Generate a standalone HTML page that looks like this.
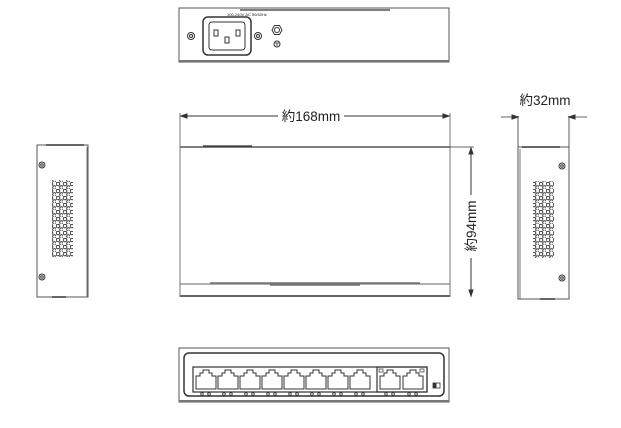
<!DOCTYPE html>
<html><head><meta charset="utf-8"><style>
html,body{margin:0;padding:0;background:#fff;}
svg{display:block;}
text{font-family:"Liberation Sans","Noto Sans CJK JP",sans-serif;fill:#222;}
</style></head><body>
<svg width="621" height="428" viewBox="0 0 621 428" xmlns="http://www.w3.org/2000/svg" fill="none" stroke="#333" stroke-width="1">
<defs>
<pattern id="vent" x="0" y="0" width="7" height="7" patternUnits="userSpaceOnUse">
<circle cx="2" cy="2" r="1.8" stroke="#333" stroke-width="1" fill="none"/>
<circle cx="5.5" cy="5.5" r="1.8" stroke="#333" stroke-width="1" fill="none"/>
</pattern>
<g id="port"><path d="M0,20 V7 H4 V4 H7 V1 H13 V4 H16 V7 H20 V20 Z" stroke="#333" stroke-width="1"/></g>
<g id="leds"><circle cx="6" cy="0" r="1.3" stroke-width="0.8"/><circle cx="13" cy="0" r="1.3" stroke-width="0.8"/></g>
</defs>

<!-- Rear view -->
<rect x="179" y="8" width="270" height="54" stroke="#555"/>
<line x1="179" y1="61" x2="449" y2="61" stroke="#777" stroke-width="2"/>
<line x1="240" y1="10" x2="390" y2="10" stroke="#333" stroke-width="1.2"/>
<text x="227" y="16" font-size="4" stroke="none">100-240V AC 50/60Hz</text>
<rect x="203" y="17" width="48" height="38" rx="5" stroke-width="1.5"/>
<rect x="209" y="22" width="36" height="28" rx="3" stroke-width="1"/>
<rect x="214" y="30" width="4" height="6"/><rect x="236" y="30" width="4" height="6"/><rect x="225" y="37" width="4" height="6"/>
<circle cx="191" cy="36" r="3.5"/><circle cx="191" cy="36" r="1.5"/>
<circle cx="258" cy="36" r="3.5"/><circle cx="258" cy="36" r="1.5"/>
<polygon points="272,30 274.5,25.5 279.5,25.5 282,30 279.5,34.5 274.5,34.5"/>
<circle cx="277" cy="30" r="2.5"/>
<circle cx="277" cy="44" r="3"/>
<line x1="275" y1="43" x2="279" y2="43" stroke-width="0.8"/><line x1="277" y1="43" x2="277" y2="46" stroke-width="0.8"/>

<!-- Left side view -->
<rect x="37" y="145" width="51" height="152" stroke="#555"/>
<line x1="87" y1="147" x2="87" y2="297" stroke="#777"/>
<line x1="46" y1="145" x2="84" y2="145" stroke-width="1.5"/>
<line x1="52" y1="297" x2="66" y2="297" stroke-width="1.5"/>
<circle cx="42" cy="165" r="3"/><circle cx="42" cy="165" r="1.3"/>
<circle cx="42" cy="277" r="3"/><circle cx="42" cy="277" r="1.3"/>
<rect x="52" y="180" width="21" height="77" fill="url(#vent)" stroke="none"/>

<!-- Front/top main -->
<line x1="180" y1="113" x2="180" y2="297" stroke="#555" stroke-width="0.8"/>
<line x1="450" y1="113" x2="450" y2="297" stroke="#555" stroke-width="0.8"/>
<line x1="181" y1="116" x2="278" y2="116"/>
<line x1="344" y1="116" x2="449" y2="116"/>
<polygon points="181,116 187,114 187,118" fill="#333"/>
<polygon points="449,116 443,114 443,118" fill="#333"/>
<text x="311" y="121" font-size="13.5" text-anchor="middle" stroke="none">約168mm</text>
<line x1="180" y1="147" x2="450" y2="147" stroke="#555" stroke-width="1.5"/>
<line x1="203" y1="146" x2="252" y2="146" stroke-width="1.2"/>
<line x1="180" y1="284" x2="450" y2="284" stroke="#666"/>
<line x1="210" y1="283" x2="420" y2="283" stroke="#777" stroke-width="1.5"/>
<line x1="270" y1="285" x2="360" y2="285" stroke="#777" stroke-width="1.5"/>
<line x1="180" y1="296" x2="450" y2="296" stroke="#666" stroke-width="2"/>
<line x1="450" y1="147" x2="474" y2="147" stroke-width="0.8"/>
<line x1="471" y1="148" x2="471" y2="195"/>
<line x1="471" y1="258" x2="471" y2="296"/>
<polygon points="471,148 469,154 473,154" fill="#333"/>
<polygon points="471,296 469,290 473,290" fill="#333"/>
<text x="0" y="0" font-size="13.5" text-anchor="middle" stroke="none" transform="translate(476,226) rotate(-90)">約94mm</text>

<!-- Right side view -->
<text x="545" y="105" font-size="13.5" text-anchor="middle" stroke="none">約32mm</text>
<line x1="518" y1="116" x2="518" y2="147" stroke-width="0.8"/>
<line x1="569" y1="116" x2="569" y2="147" stroke-width="0.8"/>
<line x1="501" y1="117" x2="518" y2="117" stroke-width="0.8"/>
<line x1="569" y1="117" x2="587" y2="117" stroke-width="0.8"/>
<polygon points="518,117 512,115 512,119" fill="#333"/>
<polygon points="569,117 575,115 575,119" fill="#333"/>
<rect x="518" y="147" width="51" height="152" stroke="#555"/>
<line x1="520" y1="149" x2="520" y2="299" stroke="#777"/>
<line x1="522" y1="147" x2="560" y2="147" stroke-width="1.5"/>
<line x1="540" y1="299" x2="555" y2="299" stroke-width="1.5"/>
<circle cx="562" cy="166" r="3"/><circle cx="562" cy="166" r="1.3"/>
<circle cx="562" cy="278" r="3"/><circle cx="562" cy="278" r="1.3"/>
<rect x="533" y="181" width="21" height="77" fill="url(#vent)" stroke="none"/>

<!-- Front ports view -->
<rect x="179" y="348" width="270" height="54" stroke="#555"/>
<line x1="179" y1="401" x2="449" y2="401" stroke="#777" stroke-width="2"/>
<rect x="184" y="353" width="260" height="43" rx="5" stroke-width="1.5"/>
<rect x="193" y="367" width="234" height="25" stroke-width="1.2"/>
<use href="#port" x="196" y="369"/>
<use href="#port" x="218" y="369"/>
<use href="#port" x="240" y="369"/>
<use href="#port" x="262" y="369"/>
<use href="#port" x="284" y="369"/>
<use href="#port" x="306" y="369"/>
<use href="#port" x="328" y="369"/>
<use href="#port" x="350" y="369"/>
<rect x="377" y="367" width="50" height="25" stroke-width="1.2"/>
<use href="#port" x="380" y="369"/>
<use href="#port" x="403" y="369"/>
<rect x="379" y="369" width="4" height="3" stroke-width="0.7"/>
<rect x="420" y="369" width="4" height="3" stroke-width="0.7"/>
<use href="#leds" x="196" y="394"/>
<use href="#leds" x="218" y="394"/>
<use href="#leds" x="240" y="394"/>
<use href="#leds" x="262" y="394"/>
<use href="#leds" x="284" y="394"/>
<use href="#leds" x="306" y="394"/>
<use href="#leds" x="328" y="394"/>
<use href="#leds" x="350" y="394"/>
<use href="#leds" x="380" y="394"/>
<use href="#leds" x="403" y="394"/>
<rect x="433" y="383" width="7" height="5" stroke-width="0.8"/>
<rect x="433" y="383" width="3.5" height="5" fill="#333" stroke="none"/>
</svg>
</body></html>
